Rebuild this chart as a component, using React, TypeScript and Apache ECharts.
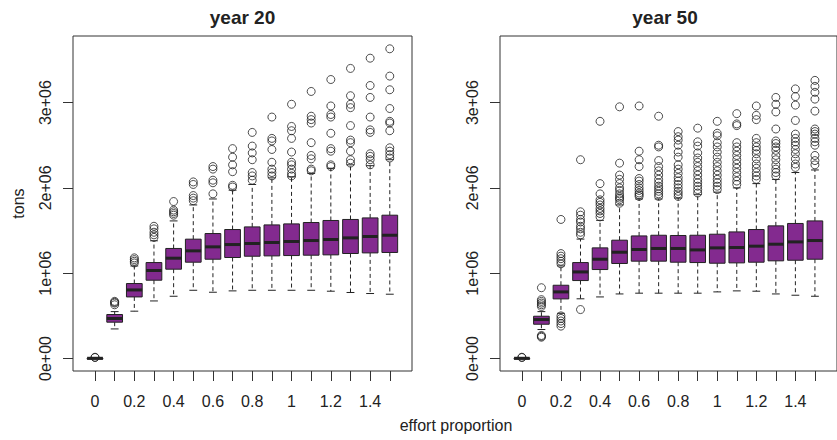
import React, { useEffect, useRef } from "react";
import * as echarts from "echarts";

// effort proportion categories
const categories = ["0", "0.1", "0.2", "0.3", "0.4", "0.5", "0.6", "0.7", "0.8", "0.9", "1", "1.1", "1.2", "1.3", "1.4", "1.5"];
const tickIndices = [0, 1, 2, 3, 4, 5, 6, 7, 8, 9, 10, 11, 12, 13, 14, 15];
const labelIndices = [0, 2, 4, 6, 8, 10, 12, 14];
const yTicks = [0, 1, 2, 3]; // in millions of tons
const yTickLabels = ["0e+00", "1e+06", "2e+06", "3e+06"];

// year 20 (millions of tons)
const y20Min = [0, 0.347, 0.555, 0.675, 0.73, 0.8, 0.777, 0.793, 0.8, 0.8, 0.8, 0.8, 0.789, 0.774, 0.762, 0.754];
const y20Q1 = [0.001, 0.426, 0.722, 0.918, 1.047, 1.129, 1.164, 1.184, 1.199, 1.203, 1.207, 1.211, 1.215, 1.231, 1.238, 1.243];
const y20Med = [0.003, 0.469, 0.804, 1.032, 1.176, 1.262, 1.309, 1.336, 1.348, 1.36, 1.372, 1.383, 1.395, 1.414, 1.43, 1.445];
const y20Q3 = [0.005, 0.516, 0.879, 1.125, 1.29, 1.399, 1.465, 1.512, 1.543, 1.566, 1.578, 1.594, 1.618, 1.63, 1.648, 1.68];
const y20Max = [0.01, 0.55, 1.085, 1.38, 1.613, 1.8, 1.87, 1.973, 2.04, 2.117, 2.13, 2.17, 2.23, 2.27, 2.26, 2.33];
const y20Out = [
  [0.012, 0.015],
  [0.63, 0.65, 0.66, 0.67],
  [1.12, 1.14, 1.16, 1.18],
  [1.42, 1.45, 1.48, 1.52, 1.55],
  [1.68, 1.7, 1.72, 1.74, 1.84],
  [1.85, 1.88, 1.91, 2.04, 2.07],
  [1.93, 2.06, 2.09, 2.22, 2.25],
  [2.01, 2.03, 2.19, 2.27, 2.36, 2.46],
  [2.09, 2.14, 2.18, 2.33, 2.41, 2.49, 2.65],
  [2.14, 2.18, 2.22, 2.3, 2.45, 2.55, 2.58, 2.83],
  [2.14, 2.17, 2.22, 2.27, 2.3, 2.42, 2.58, 2.67, 2.72, 2.98],
  [2.2, 2.22, 2.34, 2.38, 2.53, 2.76, 2.8, 2.84, 3.13],
  [2.25, 2.27, 2.43, 2.46, 2.64, 2.83, 2.86, 2.96, 3.27],
  [2.29, 2.33, 2.43, 2.53, 2.56, 2.73, 2.94, 2.98, 3.08, 3.4],
  [2.27, 2.33, 2.37, 2.4, 2.65, 2.68, 2.83, 3.06, 3.2, 3.52],
  [2.35, 2.39, 2.43, 2.47, 2.67, 2.76, 2.78, 2.93, 3.15, 3.31, 3.63],
];

// year 50 (millions of tons)
const y50Min = [0, 0.34, 0.53, 0.7, 0.722, 0.757, 0.766, 0.766, 0.766, 0.766, 0.781, 0.793, 0.789, 0.757, 0.742, 0.73];
const y50Q1 = [0.001, 0.402, 0.699, 0.914, 1.043, 1.114, 1.141, 1.141, 1.129, 1.125, 1.117, 1.121, 1.129, 1.145, 1.152, 1.164];
const y50Med = [0.003, 0.457, 0.781, 1.015, 1.164, 1.246, 1.278, 1.29, 1.29, 1.273, 1.297, 1.301, 1.317, 1.34, 1.367, 1.383];
const y50Q3 = [0.005, 0.496, 0.859, 1.125, 1.297, 1.387, 1.437, 1.445, 1.442, 1.445, 1.457, 1.484, 1.512, 1.555, 1.583, 1.613];
const y50Max = [0.01, 0.55, 1.085, 1.4, 1.62, 1.8, 1.87, 1.87, 1.88, 1.92, 1.95, 2.0, 2.05, 2.1, 2.18, 2.21];
const y50Out = [
  [0.012, 0.015],
  [0.25, 0.26, 0.27, 0.61, 0.63, 0.65, 0.67, 0.69, 0.83],
  [0.38, 0.41, 0.44, 0.47, 0.5, 1.11, 1.14, 1.17, 1.2, 1.23, 1.63],
  [0.574, 1.45, 1.48, 1.52, 1.55, 1.6, 1.63, 1.68, 1.72, 2.33],
  [1.66, 1.7, 1.73, 1.76, 1.8, 1.83, 1.86, 1.93, 2.05, 2.78],
  [1.82, 1.86, 1.88, 1.9, 1.93, 1.97, 2.0, 2.05, 2.1, 2.15, 2.29, 2.95],
  [1.9, 1.92, 1.94, 1.97, 2.0, 2.04, 2.08, 2.11, 2.25, 2.33, 2.43, 2.96],
  [1.9, 1.93, 1.96, 1.99, 2.02, 2.06, 2.1, 2.15, 2.2, 2.25, 2.32, 2.48, 2.5, 2.84],
  [1.9, 1.93, 1.96, 2.0, 2.04, 2.08, 2.12, 2.17, 2.22, 2.27, 2.36, 2.42, 2.5, 2.56, 2.6, 2.66],
  [1.94, 1.98, 2.02, 2.06, 2.1, 2.15, 2.2, 2.25, 2.3, 2.35, 2.41, 2.49, 2.54, 2.7],
  [1.98, 2.02, 2.06, 2.1, 2.15, 2.2, 2.25, 2.3, 2.36, 2.42, 2.48, 2.53, 2.61, 2.64, 2.78],
  [2.04, 2.08, 2.13, 2.18, 2.23, 2.28, 2.33, 2.38, 2.43, 2.48, 2.53, 2.73, 2.75, 2.87],
  [2.1, 2.14, 2.18, 2.23, 2.28, 2.34, 2.4, 2.44, 2.48, 2.53, 2.58, 2.8, 2.85, 2.96],
  [2.14, 2.18, 2.22, 2.27, 2.33, 2.38, 2.44, 2.48, 2.52, 2.55, 2.69, 2.89, 2.98, 3.06],
  [2.24, 2.28, 2.34, 2.4, 2.45, 2.5, 2.54, 2.58, 2.63, 2.79, 2.97, 3.07, 3.16],
  [2.27, 2.32, 2.38, 2.5, 2.54, 2.58, 2.63, 2.66, 2.69, 2.9, 3.04, 3.12, 3.19, 3.26],
];

const PURPLE = "#832a8f";
const INK = "#222222";
const FONT = "Liberation Sans, Arial, Helvetica, sans-serif";

function boxRows(mins: number[], q1: number[], med: number[], q3: number[], maxs: number[]) {
  return categories.map((_, i) => [i, mins[i], q1[i], med[i], q3[i], maxs[i]]);
}
function outRows(outs: number[][]) {
  const rows: number[][] = [];
  outs.forEach((list, i) => list.forEach((v) => rows.push([i, v])));
  return rows;
}

function renderBox(params: any, api: any) {
  const x = api.value(0);
  const pMin = api.coord([x, api.value(1)]);
  const pQ1 = api.coord([x, api.value(2)]);
  const pMed = api.coord([x, api.value(3)]);
  const pQ3 = api.coord([x, api.value(4)]);
  const pMax = api.coord([x, api.value(5)]);
  const half = api.size([0.8, 0])[0] / 2;
  const cx = pMed[0];
  const dash = { stroke: INK, lineWidth: 1, lineDash: [4, 3] };
  const solid = { stroke: INK, lineWidth: 1 };
  return {
    type: "group",
    children: [
      { type: "line", shape: { x1: cx, y1: pQ3[1], x2: cx, y2: pMax[1] }, style: dash },
      { type: "line", shape: { x1: cx, y1: pQ1[1], x2: cx, y2: pMin[1] }, style: dash },
      { type: "line", shape: { x1: cx - half / 2, y1: pMax[1], x2: cx + half / 2, y2: pMax[1] }, style: solid },
      { type: "line", shape: { x1: cx - half / 2, y1: pMin[1], x2: cx + half / 2, y2: pMin[1] }, style: solid },
      {
        type: "rect",
        shape: { x: cx - half, y: pQ3[1], width: half * 2, height: Math.max(pQ1[1] - pQ3[1], 1) },
        style: { fill: PURPLE, stroke: INK, lineWidth: 1 },
      },
      { type: "line", shape: { x1: cx - half, y1: pMed[1], x2: cx + half, y2: pMed[1] }, style: { stroke: INK, lineWidth: 3 } },
    ],
  };
}

export default function App() {
  const ref = useRef<HTMLDivElement>(null);
  useEffect(() => {
    if (!ref.current) return;
    const chart = echarts.init(ref.current, null, { renderer: "svg" });
    const panels = [
      { left: 73, box: boxRows(y20Min, y20Q1, y20Med, y20Q3, y20Max), out: outRows(y20Out) },
      { left: 500, box: boxRows(y50Min, y50Q1, y50Med, y50Q3, y50Max), out: outRows(y50Out) },
    ];
    const labelStyle = { fontSize: 16, color: INK, fontFamily: FONT };
    const option: any = {
      animation: false,
      grid: panels.map((p) => ({
        left: p.left,
        top: 36,
        width: 339,
        height: 335,
        show: true,
        borderColor: "#333",
        borderWidth: 1,
        backgroundColor: "transparent",
        containLabel: false,
      })),
      xAxis: panels.map((_, i) => ({
        type: "value",
        gridIndex: i,
        min: -1.12,
        max: 16.13,
        position: "bottom",
        axisLine: { show: false, onZero: false },
        splitLine: { show: false },
        axisTick: { show: true, length: 10, customValues: tickIndices, lineStyle: { color: "#333" } },
        axisLabel: {
          ...labelStyle,
          customValues: labelIndices,
          margin: 22,
          formatter: (v: number) => categories[Math.round(v)],
        },
      })),
      yAxis: panels.map((_, i) => ({
        type: "value",
        gridIndex: i,
        min: -0.146,
        max: 3.78,
        position: "left",
        axisLine: { show: false, onZero: false },
        splitLine: { show: false },
        axisTick: { show: true, length: 10, customValues: yTicks, lineStyle: { color: "#333" } },
        axisLabel: {
          ...labelStyle,
          customValues: yTicks,
          rotate: 90,
          margin: 20,
          formatter: (v: number) => yTickLabels[yTicks.indexOf(Math.round(v))],
        },
      })),
      series: panels.flatMap((p, i) => [
        {
          type: "custom",
          xAxisIndex: i,
          yAxisIndex: i,
          renderItem: renderBox,
          data: p.box,
          encode: { x: 0, y: [1, 2, 3, 4, 5] },
          clip: false,
        },
        {
          type: "scatter",
          xAxisIndex: i,
          yAxisIndex: i,
          data: p.out,
          symbol: "circle",
          symbolSize: 8,
          itemStyle: { color: "transparent", borderColor: INK, borderWidth: 1 },
        },
      ]),
      graphic: [
        { type: "text", x: 242.5, y: 17, style: { text: "year 20", font: `bold 19px ${FONT}`, fill: INK, textAlign: "center", textVerticalAlign: "middle" } },
        { type: "text", x: 665, y: 17, style: { text: "year 50", font: `bold 19px ${FONT}`, fill: INK, textAlign: "center", textVerticalAlign: "middle" } },
        { type: "text", x: 18, y: 203.5, rotation: Math.PI / 2, style: { text: "tons", font: `16px ${FONT}`, fill: INK, textAlign: "center", textVerticalAlign: "middle" } },
        { type: "text", x: 456, y: 425, style: { text: "effort proportion", font: `16px ${FONT}`, fill: INK, textAlign: "center", textVerticalAlign: "middle" } },
      ],
    };
    chart.setOption(option);
    return () => chart.dispose();
  }, []);
  return (
    <div
      ref={ref}
      style={{ position: "fixed", left: 0, top: 0, width: 837, height: 440, background: "#fff" }}
    />
  );
}
